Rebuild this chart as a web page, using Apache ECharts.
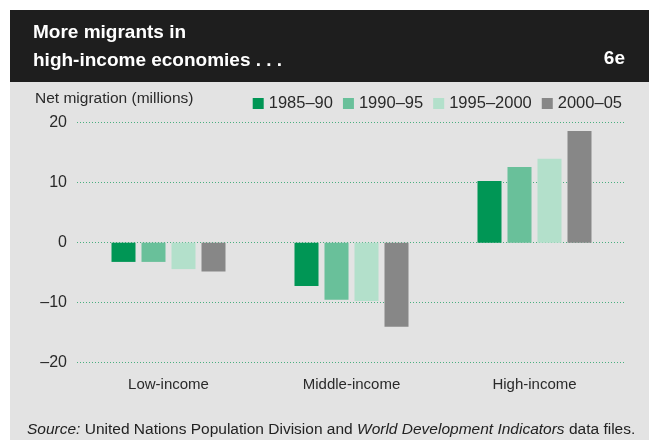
<!DOCTYPE html>
<html>
<head>
<meta charset="utf-8">
<script src="https://cdn.jsdelivr.net/npm/echarts@6/dist/echarts.min.js"></script>
<style>
html,body{margin:0;padding:0;background:#fff;}
#chart{width:649px;height:440px;}
</style>
</head>
<body>
<div id="chart"></div>
<script>
const categories = ['Low-income', 'Middle-income', 'High-income'];
const seriesNames = ['1985–90', '1990–95', '1995–2000', '2000–05'];
const v1985_90 = [-3.2, -7.2, 10.3];
const v1990_95 = [-3.2, -9.5, 12.6];
const v1995_2000 = [-4.4, -9.7, 14.0];
const v2000_05 = [-4.8, -14.0, 18.6];
const seriesValues = [v1985_90, v1990_95, v1995_2000, v2000_05];
const colors = ['#009655', '#69c09a', '#b3e0cb', '#878787'];
const yTicks = [-20, -10, 0, 10, 20];

const FONT = '"Liberation Sans", Arial, sans-serif';
const chart = echarts.init(document.getElementById('chart'), null, {renderer: 'canvas'});

const option = {
  animation: false,
  backgroundColor: '#ffffff',
  textStyle: {fontFamily: FONT},
  graphic: [
    {type: 'rect', z: -10, shape: {x: 10, y: 10, width: 639, height: 72}, style: {fill: '#1e1e1e'}},
    {type: 'rect', z: -10, shape: {x: 10, y: 82, width: 639, height: 358}, style: {fill: '#e3e3e3'}},
    {type: 'text', left: 33, top: 19, style: {text: 'More migrants in\nhigh-income economies . . .', fill: '#ffffff', font: 'bold 19px ' + FONT, lineHeight: 28}},
    {type: 'text', right: 24, top: 49, style: {text: '6e', fill: '#ffffff', font: 'bold 19px ' + FONT}},
    {type: 'text', left: 35, top: 91, style: {text: 'Net migration (millions)', fill: '#2a2a2a', font: '15.5px ' + FONT}},
    {type: 'text', left: 27, top: 422, style: {
      rich: {
        i: {fontStyle: 'italic', fontSize: 15.5, fontFamily: FONT, fill: '#222'},
        n: {fontSize: 15.5, fontFamily: FONT, fill: '#222'}
      },
      text: '{i|Source:}{n| United Nations Population Division and }{i|World Development Indicators}{n| data files.}'
    }}
  ],
  legend: {
    top: 90,
    right: 22,
    itemWidth: 11,
    itemHeight: 11,
    itemGap: 10,
    icon: 'rect',
    textStyle: {fontSize: 16.5, color: '#2a2a2a', fontFamily: FONT},
    data: seriesNames
  },
  grid: {left: 77, right: 23, top: 122.7, bottom: 77.3, containLabel: false},
  xAxis: {
    type: 'category',
    data: categories,
    axisLine: {show: false},
    axisTick: {show: false},
    axisLabel: {margin: 15, fontSize: 15, color: '#2a2a2a', fontFamily: FONT},
    splitLine: {show: false}
  },
  yAxis: {
    type: 'value',
    min: yTicks[0],
    max: yTicks[yTicks.length - 1],
    interval: 10,
    axisLine: {show: false},
    axisTick: {show: false},
    axisLabel: {
      margin: 10,
      fontSize: 16,
      color: '#2a2a2a',
      fontFamily: FONT,
      formatter: function (v) { return v < 0 ? '–' + Math.abs(v) : String(v); }
    },
    splitLine: {show: true, lineStyle: {color: '#4aae7f', width: 1, type: [1, 2]}}
  },
  series: seriesNames.map(function (name, i) {
    return {
      name: name,
      type: 'bar',
      data: seriesValues[i],
      barWidth: 24,
      barGap: '25%',
      itemStyle: {color: colors[i]}
    };
  })
};
chart.setOption(option);
</script>
</body>
</html>
